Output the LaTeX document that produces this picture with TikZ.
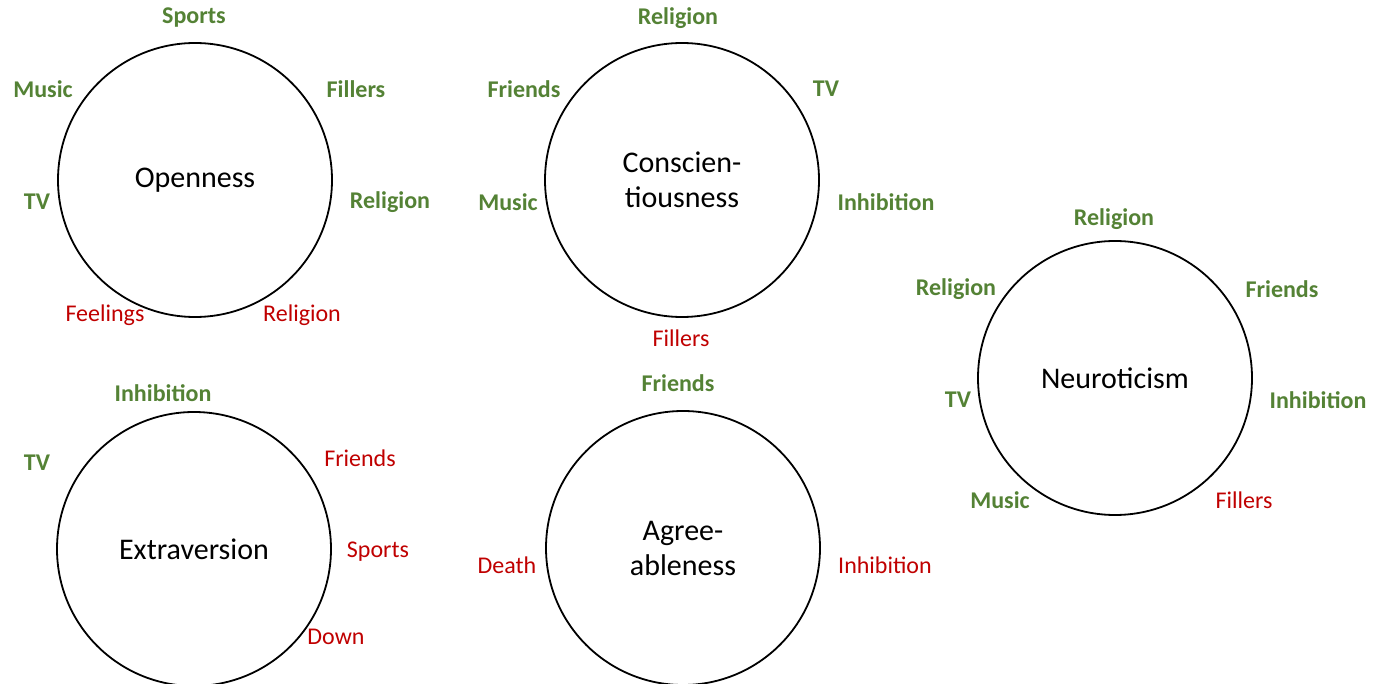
\documentclass[tikz,border=0pt]{standalone}
\usepackage{fontspec}
\setmainfont{Carlito}
\definecolor{lgreen}{HTML}{548235}
\definecolor{lred}{HTML}{C00000}
\begin{document}
\begin{tikzpicture}[x=1pt,y=-1pt,
  trait/.style={circle,draw=black,line width=1.8pt,minimum size=274pt,inner sep=0pt,align=center,font=\fontsize{30}{35}\selectfont},
  poslab/.style={text=lgreen,font=\fontsize{24}{28}\selectfont\bfseries,inner sep=0pt},
  neglab/.style={text=lred,font=\fontsize{24}{28}\selectfont,inner sep=0pt}]
\useasboundingbox[fill=white] (0,0) rectangle (1385,684);
% Openness
\node[trait] (o) at (195,180) {Openness};
\node[poslab] (o1) at (194,18) {Sports};
\node[poslab] (o2) at (43,89) {Music};
\node[poslab] (o3) at (356,89) {Fillers};
\node[poslab] (o4) at (37,202) {TV};
\node[poslab] (o5) at (390,202) {Religion};
\node[neglab] (o6) at (105,315) {Feelings};
\node[neglab] (o7) at (302,315) {Religion};
% Conscientiousness
\node[trait] (c) at (682,180) {Conscien-\\tiousness};
\node[poslab] (c1) at (678,18) {Religion};
\node[poslab] (c2) at (524,89) {Friends};
\node[poslab] (c3) at (826,89) {TV};
\node[poslab] (c4) at (508,202) {Music};
\node[poslab] (c5) at (886,202) {Inhibition};
\node[neglab] (c6) at (681,338) {Fillers};
% Neuroticism
\node[trait] (n) at (1115,378) {Neuroticism};
\node[poslab] (n1) at (1114,219) {Religion};
\node[poslab] (n2) at (956,289) {Religion};
\node[poslab] (n3) at (1282,289) {Friends};
\node[poslab] (n4) at (958,400) {TV};
\node[poslab] (n5) at (1318,400) {Inhibition};
\node[poslab] (n6) at (1000,500) {Music};
\node[neglab] (n7) at (1244,500) {Fillers};
% Extraversion
\node[trait] (e) at (194,549) {Extraversion};
\node[poslab] (e1) at (163,393) {Inhibition};
\node[poslab] (e2) at (37,463) {TV};
\node[neglab] (e3) at (360,458) {Friends};
\node[neglab] (e4) at (378,552) {Sports};
\node[neglab] (e5) at (336,637) {Down};
% Agreeableness
\node[trait] (a) at (683,548) {Agree-\\ableness};
\node[poslab] (a1) at (678,383) {Friends};
\node[neglab] (a2) at (507,565) {Death};
\node[neglab] (a3) at (885,565) {Inhibition};
\end{tikzpicture}
\end{document}
